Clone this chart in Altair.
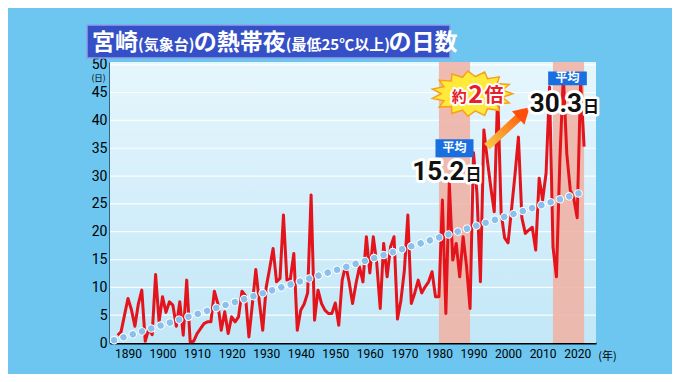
import math
import altair as alt
import pandas as pd

# ---------------- data ----------------
years = list(range(1887, 2023))
nights = [
    1.4, 2.0, 5.0,
    8.0, 6.0, 3.0, 7.0, 9.5, 0.3, 2.5, 1.5, 12.3, 3.8,
    8.3, 5.5, 7.4, 6.8, 3.0, 7.4, 1.4, 11.3, 0.2, 0.3,
    1.7, 2.6, 3.5, 3.8, 3.8, 9.3, 7.1, 2.3, 5.6, 1.7,
    4.7, 3.8, 4.7, 9.3, 8.5, 1.1, 7.0, 13.2, 7.5, 2.3,
    10.0, 13.4, 17.0, 11.0, 11.6, 23.0, 11.3, 11.5, 16.1, 2.3,
    5.9, 7.0, 9.0, 26.6, 4.1, 9.5, 7.1, 5.9, 5.3, 5.3,
    7.2, 3.2, 11.3, 14.0, 11.0, 7.1, 10.7, 13.7, 11.0, 19.1,
    12.6, 19.1, 14.3, 6.2, 17.9, 11.9, 17.3, 19.1, 4.3, 7.7,
    13.1, 23.0, 7.1, 9.0, 11.3, 9.0, 10.1, 11.0, 12.8, 8.3,
    8.3, 25.7, 5.3, 28.7, 14.9, 17.9, 11.9, 19.1, 13.7, 6.2,
    34.2, 26.9, 11.0, 38.3, 32.9, 28.0, 23.6, 45.0, 23.4, 18.9,
    18.0, 24.0, 30.2, 37.0, 22.5, 19.7, 20.3, 20.8, 16.7, 29.6,
    25.7, 30.5, 46.0, 17.3, 11.9, 33.0, 48.0, 34.0, 27.5, 26.0,
    22.5, 47.0, 35.3,
]
trend_years = [1886, 2022]
trend_values = [0.5, 27.2]
band_starts = [1980, 2013]
band_ends = [1989, 2022]
y_ticks = [0, 5, 10, 15, 20, 25, 30, 35, 40, 45, 50]
x_ticks = [1890, 1900, 1910, 1920, 1930, 1940, 1950, 1960, 1970, 1980, 1990, 2000, 2010, 2020]

avg_numbers = ["15.2", "30.3"]
avg_num_x = [1987.4, 2021.4]
avg_num_y = [30.8, 42.9]
avg_box_x = [1979.0, 2011.6]
avg_box_x2 = [1990.0, 2022.8]
avg_box_y = [36.6, 48.8]
avg_box_y2 = [33.4, 46.3]

title_parts = ["宮崎", "(気象台)", "の熱帯夜", "(最低25℃以上)", "の日数"]
title_big = [True, False, True, False, True]

# ---------------- layout ----------------
W, H = 486, 281
xs = alt.Scale(domain=[1884.8, 2025.45], nice=False, zero=False)
ys = alt.Scale(domain=[0, 50.5], nice=False, zero=True)
NUMFONT = "Roboto"
JPFONT = "Noto Sans CJK JP"

xaxis = alt.Axis(
    values=x_ticks, format="d", labelFontSize=12, labelColor="black", labelFont=NUMFONT,
    labelPadding=5, domainColor="black", domainWidth=2, ticks=False, grid=False,
    title="(年)", titleX=497, titleY=13, titleFont=JPFONT, titleFontSize=11,
    titleFontWeight="normal", titleAlign="center", titleBaseline="middle", titleColor="black")
yaxis = alt.Axis(
    values=y_ticks, labelFontSize=14, labelColor="black", labelFont=NUMFONT,
    labelPadding=3, domainColor="black", domainWidth=2, ticks=False, grid=False,
    title="(日)", titleX=-12, titleY=15.5, titleAngle=0, titleFont=JPFONT, titleFontSize=8.5,
    titleFontWeight="normal", titleAlign="center", titleBaseline="middle", titleColor="black")

def X(f):
    return alt.X(f, scale=xs, axis=xaxis)

def Y(f):
    return alt.Y(f, scale=ys, axis=yaxis)

df = pd.DataFrame({"year": years, "nights": nights})
trend = pd.DataFrame({"year": trend_years, "nights": trend_values})
bands = pd.DataFrame({"year": band_starts, "e": band_ends})
grid = pd.DataFrame({"nights": y_ticks[1:]})
one = pd.DataFrame({"a": [0]})

bg = alt.Chart(one).mark_rect(
    color=alt.LinearGradient(
        gradient="linear",
        stops=[alt.GradientStop(color="#e6f6fd", offset=0),
               alt.GradientStop(color="#c2e7f7", offset=1)],
        x1=0, x2=0, y1=0, y2=1)
).encode(x=alt.value(0), x2=alt.value(W), y=alt.value(0), y2=alt.value(H))

gridlines = alt.Chart(grid).mark_rule(color="white", strokeWidth=1.2, opacity=0.9).encode(
    y=Y("nights:Q"), x=alt.value(0), x2=alt.value(W))

band_layer = alt.Chart(bands).mark_rect(color="#f0b2a4", opacity=0.88).encode(
    x=X("year:Q"), x2="e:Q", y=alt.value(0), y2=alt.value(H))

line = alt.Chart(df).mark_line(color="#e3141b", strokeWidth=3, strokeJoin="round").encode(
    x=X("year:Q"), y=Y("nights:Q"))

trend_white = alt.Chart(trend).mark_line(color="white", strokeWidth=8.5, strokeDash=[0.01, 9.73], strokeCap="round").encode(
    x=X("year:Q"), y=Y("nights:Q"))
trend_blue = alt.Chart(trend).mark_line(color="#8cc0ec", strokeWidth=6.5, strokeDash=[0.01, 9.73], strokeCap="round").encode(
    x=X("year:Q"), y=Y("nights:Q"))

# average boxes and numbers
avg = pd.DataFrame({"num": avg_numbers, "year": avg_num_x, "nights": avg_num_y,
                    "bx": avg_box_x, "bx2": avg_box_x2, "by": avg_box_y, "by2": avg_box_y2})
avg["cx"] = (avg["bx"] + avg["bx2"]) / 2
avg["cy"] = (avg["by"] + avg["by2"]) / 2
avg["lab"] = "平均"
avg["unit"] = "日"

box = alt.Chart(avg).mark_rect(color="#1a6fe0").encode(
    x=X("bx:Q"), x2="bx2:Q", y=Y("by:Q"), y2="by2:Q")
box_txt = alt.Chart(avg).mark_text(color="white", font=JPFONT, fontSize=12, fontWeight="bold", baseline="middle").encode(
    x=X("cx:Q"), y=Y("cy:Q"), text="lab:N")

def num_layer(**kw):
    return alt.Chart(avg).mark_text(color="#111", font=NUMFONT, fontSize=26, fontWeight="bold",
                                    align="right", baseline="middle", **kw).encode(
        x=X("year:Q"), y=Y("nights:Q"), text="num:N")

def unit_layer(**kw):
    return alt.Chart(avg).mark_text(color="#111", font=JPFONT, fontSize=16, fontWeight="bold",
                                    align="left", baseline="middle", dx=1, dy=3, **kw).encode(
        x=X("year:Q"), y=Y("nights:Q"), text="unit:N")

# starburst
pts = []
for i in range(30):
    ang = math.pi * i / 15
    r = 1.0 if i % 2 == 0 else 0.76
    pts.append((r * math.cos(ang), r * 0.56 * math.sin(ang)))
star_path = "M" + " L".join(f"{px:.3f},{py:.3f}" for px, py in pts) + " Z"

burst = pd.DataFrame({"year": [1989.6], "nights": [44.8]})
star = alt.Chart(burst).mark_point(shape=star_path, size=6600, filled=True, fill="#ffe93b",
                                   stroke="#f6a21e", strokeWidth=1.5, opacity=1).encode(
    x=X("year:Q"), y=Y("nights:Q"))

bt = pd.DataFrame({"t": ["約", "2", "倍"], "year": [1985.9, 1990.6, 1995.9], "nights": [44.2, 44.6, 44.3],
                   "s": [15, 25, 19]})

def burst_text(**kw):
    return alt.Chart(bt).mark_text(color="#e5202a", font=JPFONT, fontWeight="bold", baseline="middle", **kw).encode(
        x=X("year:Q"), y=Y("nights:Q"), text="t:N",
        size=alt.Size("s:Q", scale=None, legend=None))

# arrow
arr = pd.DataFrame({"year": [1993.9], "nights": [35.3], "x2": [2004.6], "y2": [41.4]})
shaft = alt.Chart(arr).mark_rule(strokeWidth=8, color=alt.LinearGradient(
    gradient="linear", stops=[alt.GradientStop(color="#f8c84a", offset=0),
                              alt.GradientStop(color="#ff5a0a", offset=1)],
    x1=0, x2=1, y1=1, y2=0)).encode(
    x=X("year:Q"), y=Y("nights:Q"), x2="x2:Q", y2="y2:Q")
head_df = pd.DataFrame({"year": [2004.6], "nights": [41.4]})
head = alt.Chart(head_df).mark_point(shape="triangle-up", size=330, angle=47, filled=True, color="#ff4e08", opacity=1).encode(
    x=X("year:Q"), y=Y("nights:Q"))

# title banner
banner = alt.Chart(one).mark_rect(color="#3550c6", stroke="#8ea0ea", strokeWidth=1.5).encode(
    x=alt.value(-23), x2=alt.value(340), y=alt.value(-37), y2=alt.value(-4))

title_layers = []
xpos = -18
for part, big in zip(title_parts, title_big):
    fs = 23 if big else 15
    title_layers.append(alt.Chart(one).mark_text(
        text=part, color="white", font=JPFONT, fontSize=fs, fontWeight="bold",
        align="left", baseline="alphabetic").encode(x=alt.value(xpos), y=alt.value(-12)))
    w = 0
    for ch in part:
        if ch in "()":
            w += 0.36 * fs
        elif ch.isdigit():
            w += 0.56 * fs
        else:
            w += fs
    xpos += w

chart = alt.layer(
    bg, gridlines, band_layer, line, trend_white, trend_blue,
    shaft, head, star,
    burst_text(stroke="white", strokeWidth=4, strokeJoin="round"), burst_text(),
    box, box_txt,
    num_layer(stroke="white", strokeWidth=6, strokeJoin="round"), num_layer(),
    unit_layer(stroke="white", strokeWidth=5, strokeJoin="round"), unit_layer(),
    banner, *title_layers,
).properties(
    width=W, height=H,
    padding={"left": 102, "top": 54, "right": 76, "bottom": 31},
    autosize=alt.AutoSizeParams(type="none"),
    background="#6cc6ef",
).configure_view(strokeWidth=0)

chart.save("out.html", embed_options={"renderer": "svg", "actions": False})
